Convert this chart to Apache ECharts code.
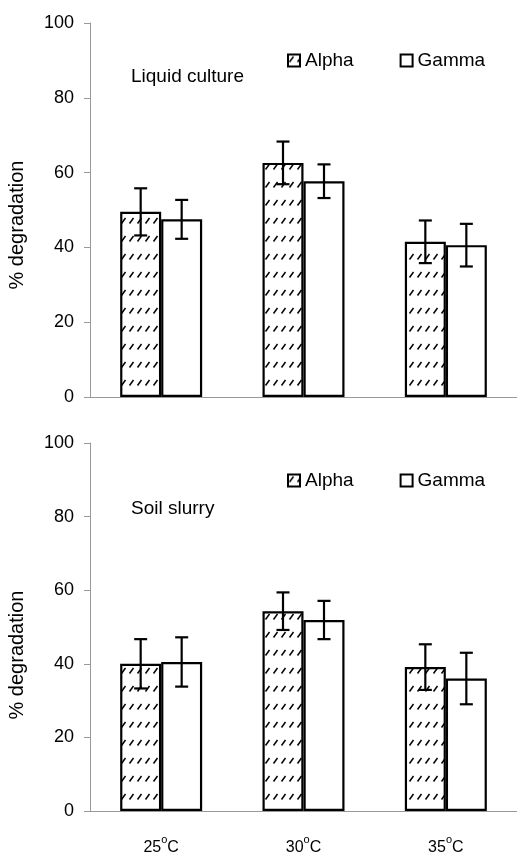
<!DOCTYPE html>
<html>
<head>
<meta charset="utf-8">
<script src="https://cdn.jsdelivr.net/npm/echarts@6/dist/echarts.min.js"></script>
<style>
  html, body { margin: 0; padding: 0; background: #fff; }
  #chart { width: 517px; height: 856px; }
</style>
</head>
<body>
<div id="chart"></div>
<script>
  // data
  var temps = ['25', '30', '35'];
  var slots = ['', '', '', '', '', ''];   // half-category ticks
  var liquidAlpha    = [49.5, 62.6, 41.5];
  var liquidAlphaErr = [6.3, 5.7, 5.7];
  var liquidGamma    = [47.5, 57.7, 40.6];
  var liquidGammaErr = [5.2, 4.5, 5.7];
  var soilAlpha      = [40.0, 54.3, 39.1];
  var soilAlphaErr   = [6.7, 5.1, 6.2];
  var soilGamma      = [40.5, 51.9, 36.0];
  var soilGammaErr   = [6.7, 5.2, 7.0];

  var FONT = 'Liberation Sans, Arial, sans-serif';
  var barW = 41;

  // hatch tile for Alpha bars
  var tile = document.createElement('canvas');
  tile.width = 8; tile.height = 18;
  var tc = tile.getContext('2d');
  tc.fillStyle = '#fff';
  tc.fillRect(0, 0, 8, 18);
  tc.strokeStyle = '#000';
  tc.lineWidth = 1.5;
  tc.beginPath();
  tc.moveTo(1.5, 7.5);
  tc.lineTo(5.5, 2);
  tc.stroke();
  var hatch = { image: tile, repeat: 'repeat' };

  let myChart = echarts.init(document.getElementById('chart'));

  function errSeries(vals, errs, idx, side) {
    return {
      type: 'custom',
      xAxisIndex: idx * 2,
      yAxisIndex: idx,
      z: 5,
      encode: { x: 0, y: 1 },
      data: vals.map(function (v, i) { return [i, v, errs[i]]; }),
      renderItem: function (params, api) {
        var i = api.value(0), v = api.value(1), e = api.value(2);
        var hi = api.coord([i, v + e]);
        var lo = api.coord([i, v - e]);
        var x = hi[0] + side * barW / 2;
        var cap = 6.5;
        var st = { stroke: '#000', lineWidth: 2.2 };
        return {
          type: 'group',
          children: [
            { type: 'line', shape: { x1: x, y1: hi[1], x2: x, y2: lo[1] }, style: st },
            { type: 'line', shape: { x1: x - cap, y1: hi[1], x2: x + cap, y2: hi[1] }, style: st },
            { type: 'line', shape: { x1: x - cap, y1: lo[1], x2: x + cap, y2: lo[1] }, style: st }
          ]
        };
      }
    };
  }

  function barSeries(name, vals, idx, fill) {
    return {
      name: name,
      type: 'bar',
      xAxisIndex: idx * 2,
      yAxisIndex: idx,
      barWidth: barW,
      barGap: '0%',
      data: vals,
      itemStyle: { color: fill, borderColor: '#000', borderWidth: 2.2 }
    };
  }

  function xAxes(idx, labels) {
    return [
      {
        type: 'category',
        gridIndex: idx,
        data: temps,
        axisLine: { lineStyle: { color: '#999', width: 1 } },
        axisTick: { inside: true, length: 5, lineStyle: { color: '#999' } },
        axisLabel: {
          show: labels,
          margin: 23,
          formatter: function (v) { return '{n|' + v + '}{o|o}{n|C}'; },
          rich: {
            n: { fontSize: 16, lineHeight: 27, fontFamily: FONT, color: '#000' },
            o: { fontSize: 11, lineHeight: 11, verticalAlign: 'top', fontFamily: FONT, color: '#000' }
          }
        }
      },
      {
        type: 'category',
        gridIndex: idx,
        data: slots,
        axisLine: { show: false },
        axisTick: { length: 6, lineStyle: { color: '#999' } },
        axisLabel: { show: false }
      }
    ];
  }

  function yAxis(idx) {
    return {
      type: 'value',
      gridIndex: idx,
      min: 0,
      max: 100,
      interval: 20,
      splitLine: { show: false },
      axisLine: { show: true, lineStyle: { color: '#999', width: 1 } },
      axisTick: { show: true, length: 6, lineStyle: { color: '#999' } },
      axisLabel: { margin: 16, fontSize: 18, color: '#000', fontFamily: FONT }
    };
  }

  function legend(top) {
    return {
      data: ['Alpha', 'Gamma'],
      left: 282,
      top: top,
      itemWidth: 12,
      itemHeight: 12,
      itemGap: 46,
      icon: 'rect',
      textStyle: { fontSize: 19, color: '#000', fontFamily: FONT, padding: [0, 0, 0, 0] }
    };
  }

  function label(text, x, y, rot) {
    return {
      type: 'text',
      x: x,
      y: y,
      rotation: rot || 0,
      style: {
        text: text,
        fontSize: rot ? 20 : 19,
        fontFamily: FONT,
        fill: '#000',
        textAlign: rot ? 'center' : 'left',
        textVerticalAlign: 'middle'
      }
    };
  }

  myChart.setOption({
    animation: false,
    backgroundColor: '#fff',
    grid: [
      { left: 90, top: 23, width: 430, height: 374 },
      { left: 90, top: 443, width: 430, height: 368 }
    ],
    legend: [legend(46), legend(466)],
    xAxis: xAxes(0, false).concat(xAxes(1, true)),
    yAxis: [yAxis(0), yAxis(1)],
    graphic: [
      label('Liquid culture', 131, 77),
      label('Soil slurry', 131, 509),
      label('% degradation', 17, 225, Math.PI / 2),
      label('% degradation', 17, 655, Math.PI / 2)
    ],
    series: [
      barSeries('Alpha', liquidAlpha, 0, hatch),
      barSeries('Gamma', liquidGamma, 0, '#fff'),
      barSeries('Alpha', soilAlpha, 1, hatch),
      barSeries('Gamma', soilGamma, 1, '#fff'),
      errSeries(liquidAlpha, liquidAlphaErr, 0, -1),
      errSeries(liquidGamma, liquidGammaErr, 0, 1),
      errSeries(soilAlpha, soilAlphaErr, 1, -1),
      errSeries(soilGamma, soilGammaErr, 1, 1)
    ]
  });
</script>
</body>
</html>
